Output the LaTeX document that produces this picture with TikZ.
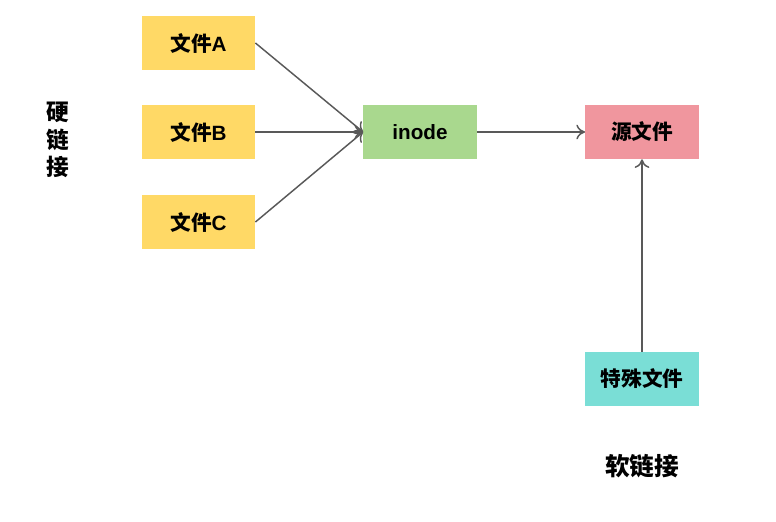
\documentclass[tikz,border=0pt]{standalone}
\usepackage{fontspec}
\setmainfont{Liberation Sans}
\newfontfamily\cjk{Noto Sans CJK SC}
\usetikzlibrary{arrows.meta}
\definecolor{pfeil}{RGB}{89,89,89}
\definecolor{gelb}{RGB}{255,217,102}
\definecolor{gruen}{RGB}{169,216,142}
\definecolor{rosa}{RGB}{240,150,158}
\definecolor{tuerkis}{RGB}{122,222,214}

\begin{document}
\begin{tikzpicture}[x=0.75pt, y=-0.75pt,
    box/.style={minimum width=85pt, minimum height=40.5pt, inner sep=0pt,
        font=\fontsize{15.5}{18}\selectfont\bfseries},
    label/.style={font=\fontsize{17}{20.5}\selectfont\bfseries\cjk, align=center},
    pfeilstil/.style={draw=pfeil, line width=1.1pt, -{To[length=6.5pt, width=11pt]}}]

    \useasboundingbox (0,0) rectangle (776,522);

    \node[box, fill=gelb] (dateiA) at (198.5,43) {{\cjk 文件}A};
    \node[box, fill=gelb] (dateiB) at (198.5,132) {{\cjk 文件}B};
    \node[box, fill=gelb] (dateiC) at (198.5,222) {{\cjk 文件}C};
    \node[box, fill=gruen] (inode) at (420,132) {inode};
    \node[box, fill=rosa] (quelle) at (642,132) {\cjk 源文件};
    \node[box, fill=tuerkis] (spezial) at (642,379) {\cjk 特殊文件};

    \node[label] (hart) at (58,140) {硬\\链\\接};
    \node[label, font=\fontsize{18.5}{22}\selectfont\bfseries\cjk] (weich) at (642,466) {软链接};

    \foreach \d in {dateiA,dateiB,dateiC}{
        \draw[pfeilstil] (\d.east) -- (inode.west);
    }
    \draw[pfeilstil] (inode) -- (quelle);
    \draw[pfeilstil] (spezial) -- (quelle);

\end{tikzpicture}
\end{document}
